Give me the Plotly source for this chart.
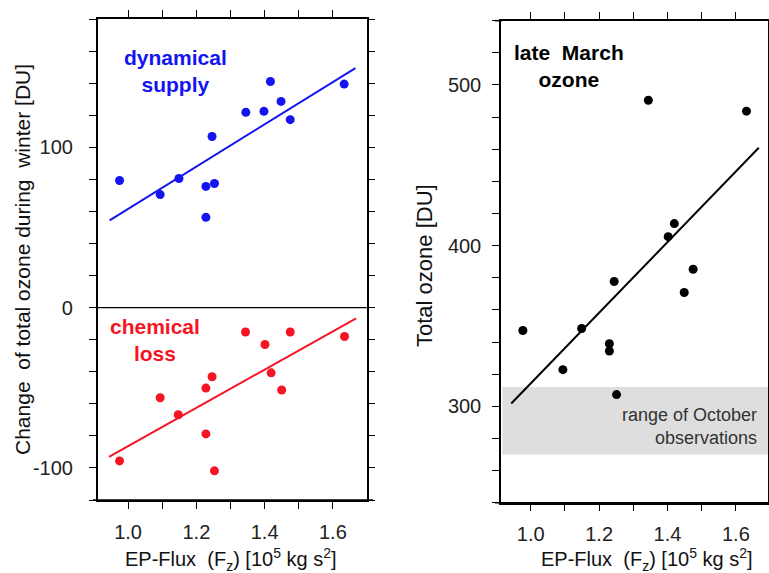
import plotly.graph_objects as go

# ---------------- data ----------------
EP_FLUX_SUPPLY = [0.975, 1.094, 1.149, 1.228, 1.253, 1.228, 1.246, 1.345, 1.398, 1.417, 1.448, 1.475, 1.633]
SUPPLY_DU = [79.3, 70.5, 80.5, 75.6, 77.4, 56.3, 106.7, 121.8, 122.4, 141.0, 128.6, 117.2, 139.4]
SUPPLY_FIT_X = [0.946, 1.666]
SUPPLY_FIT_Y = [54.4, 149.4]

EP_FLUX_LOSS = [0.975, 1.094, 1.147, 1.228, 1.246, 1.228, 1.253, 1.344, 1.401, 1.419, 1.450, 1.475, 1.634]
LOSS_DU = [-95.6, -56.2, -66.8, -50.2, -43.1, -78.8, -101.8, -15.2, -23.0, -40.7, -51.4, -15.2, -18.0]
LOSS_FIT_X = [0.944, 1.668]
LOSS_FIT_Y = [-93.1, -6.7]

EP_FLUX_MARCH = [1.344, 1.631, 1.402, 1.420, 1.475, 1.244, 1.449, 0.977, 1.149, 1.230, 1.230, 1.094, 1.251]
MARCH_OZONE = [490.5, 483.7, 405.6, 413.7, 385.3, 377.7, 370.8, 347.2, 348.4, 338.9, 334.4, 322.8, 307.3]
MARCH_FIT_X = [0.943, 1.667]
MARCH_FIT_Y = [301.7, 460.9]

OCTOBER_RANGE = [270, 312]

X_TICKVALS = [1.0, 1.2, 1.4, 1.6]
X_TICKTEXT = ["1.0", "1.2", "1.4", "1.6"]
Y1_TICKVALS = [-100, 0, 100]
Y1_TICKTEXT = ["-100", "0", "100"]
Y2_TICKVALS = [300, 400, 500]
Y2_TICKTEXT = ["300", "400", "500"]

FONT = "Liberation Sans, Arial, sans-serif"
BLUE = "#1414f0"
RED = "#f51423"
NB = "\u00a0"

W, H = 769, 573


def px_x(p):
    return p / W


def px_y(p):
    return 1 - p / H


fig = go.Figure()

# left panel
fig.add_trace(go.Scatter(x=SUPPLY_FIT_X, y=SUPPLY_FIT_Y, mode="lines",
                         line=dict(color=BLUE, width=2), xaxis="x", yaxis="y", showlegend=False))
fig.add_trace(go.Scatter(x=EP_FLUX_SUPPLY, y=SUPPLY_DU, mode="markers",
                         marker=dict(color=BLUE, size=9), xaxis="x", yaxis="y", showlegend=False))
fig.add_trace(go.Scatter(x=LOSS_FIT_X, y=LOSS_FIT_Y, mode="lines",
                         line=dict(color=RED, width=2), xaxis="x", yaxis="y", showlegend=False))
fig.add_trace(go.Scatter(x=EP_FLUX_LOSS, y=LOSS_DU, mode="markers",
                         marker=dict(color=RED, size=9), xaxis="x", yaxis="y", showlegend=False))

# right panel
fig.add_trace(go.Scatter(x=MARCH_FIT_X, y=MARCH_FIT_Y, mode="lines",
                         line=dict(color="black", width=2), xaxis="x2", yaxis="y2", showlegend=False))
fig.add_trace(go.Scatter(x=EP_FLUX_MARCH, y=MARCH_OZONE, mode="markers",
                         marker=dict(color="black", size=9), xaxis="x2", yaxis="y2", showlegend=False))


def axis(standoff, minor_dtick, minor_tick0):
    return dict(showline=True, linecolor="black", linewidth=1.5, mirror="ticks",
                ticks="outside", ticklen=7, tickwidth=1.2, tickcolor="black",
                showgrid=False, zeroline=False, ticklabelstandoff=standoff,
                automargin=False,
                minor=dict(ticks="outside", ticklen=7, tickwidth=1.2, tickcolor="black",
                           dtick=minor_dtick, tick0=minor_tick0, showgrid=False),
                tickfont=dict(family=FONT, size=20, color="#222222"))


fig.update_layout(
    width=W, height=H,
    margin=dict(l=0, r=0, t=0, b=0, autoexpand=False),
    paper_bgcolor="white", plot_bgcolor="white",
    xaxis=dict(domain=[px_x(97.7), px_x(366.7)], range=[0.911, 1.699], anchor="y",
               tickvals=X_TICKVALS, ticktext=X_TICKTEXT, **axis(6, 0.1, 1.0)),
    yaxis=dict(domain=[px_y(500), px_y(19)], range=[-120, 180], anchor="x",
               tickvals=Y1_TICKVALS, ticktext=Y1_TICKTEXT, **axis(12, 20, 0)),
    xaxis2=dict(domain=[px_x(501), px_x(768)], range=[0.913, 1.694], anchor="y2",
                tickvals=X_TICKVALS, ticktext=X_TICKTEXT, **axis(6, 0.1, 1.0)),
    yaxis2=dict(domain=[px_y(502.7), px_y(20.7)], range=[240, 540], anchor="x2",
                tickvals=Y2_TICKVALS, ticktext=Y2_TICKTEXT, **axis(7, 20, 0)),
)

# zero line in left panel
fig.add_shape(type="line", xref="x domain", yref="y", x0=0, x1=1, y0=0, y1=0,
              line=dict(color="black", width=1.2))
# range of October observations band
fig.add_shape(type="rect", xref="x2 domain", yref="y2", x0=0.005, x1=1,
              y0=OCTOBER_RANGE[0], y1=OCTOBER_RANGE[1],
              fillcolor="#dedede", line=dict(width=0), layer="below")
# frame lines that run slightly past the corners, as in the original
for (xa, xb, yy) in [(93, 373, 500), (495, 769, 502.7), (495, 502, 20.7)]:
    fig.add_shape(type="line", xref="paper", yref="paper",
                  x0=px_x(xa), x1=px_x(xb), y0=px_y(yy), y1=px_y(yy),
                  line=dict(color="black", width=1.5))

XTITLE = f"EP-Flux{NB} (F<sub>z</sub>) [10<sup>5</sup> kg s<sup>2</sup>]"

annos = [
    dict(x=1.14, y=147.4, xref="x", yref="y", text="<b>dynamical<br>supply</b>",
         font=dict(family=FONT, size=21, color=BLUE)),
    dict(x=1.078, y=-20.3, xref="x", yref="y", text="<b>chemical<br>loss</b>",
         font=dict(family=FONT, size=21, color=RED)),
    dict(x=1.111, y=511.9, xref="x2", yref="y2", text=f"<b>late{NB} March<br>ozone</b>",
         font=dict(family=FONT, size=21, color="black")),
    dict(x=1.668, y=287.4, xref="x2", yref="y2", text="range of October<br>observations",
         xanchor="right", align="right", font=dict(family=FONT, size=18, color="#333333")),
    dict(x=px_x(22), y=px_y(260), xref="paper", yref="paper", textangle=-90,
         text=f"Change{NB} of total ozone during{NB} winter [DU]",
         font=dict(family=FONT, size=21, color="#111111")),
    dict(x=px_x(424), y=px_y(265), xref="paper", yref="paper", textangle=-90,
         text="Total ozone [DU]", font=dict(family=FONT, size=22, color="#111111")),
    dict(x=px_x(231), y=px_y(559.5), xref="paper", yref="paper", text=XTITLE,
         font=dict(family=FONT, size=20, color="#111111")),
    dict(x=px_x(647), y=px_y(559.5), xref="paper", yref="paper", text=XTITLE,
         font=dict(family=FONT, size=20, color="#111111")),
]
for a in annos:
    a.setdefault("xanchor", "center")
    a.setdefault("yanchor", "middle")
    a["showarrow"] = False
    fig.add_annotation(**a)

# remove the default 8px page margin so the figure fills the 769x573 window exactly
fig.write_html("out.html", config={"displayModeBar": False},
               post_script="document.body.style.margin='0';document.body.style.overflow='hidden';")
